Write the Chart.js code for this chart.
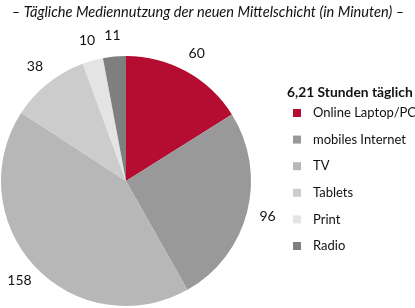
<!DOCTYPE html>
<html><head><meta charset="utf-8">
<script src="https://cdn.jsdelivr.net/npm/chart.js@4"></script>
<style>html,body{margin:0;padding:0;background:#fff;}#wrap{width:415px;height:308px;position:relative;}</style>
</head><body><div id="wrap"><canvas id="c" width="415" height="308"></canvas></div>
<script>
const categories = ["Online Laptop/PC","mobiles Internet","TV","Tablets","Print","Radio"];
const minutes = [60,96,158,38,10,11];
const colors = ["#b40d31","#999999","#b7b7b7","#cccccc","#e4e4e4","#7f7f7f"];
const titleText = "– Tägliche Mediennutzung der neuen Mittelschicht (in Minuten) –";
const legendTitle = "6,21 Stunden täglich";
const FONT = "Lato, sans-serif";

const overlay = {
  id:'overlay',
  afterDraw(chart){
    const ctx = chart.ctx;
    ctx.save();
    ctx.fillStyle = '#111';
    ctx.font = "italic 14.6px " + FONT;
    ctx.textAlign = 'center'; ctx.textBaseline = 'middle';
    ctx.fillText(titleText, 208, 12);
    const meta = chart.getDatasetMeta(0);
    ctx.font = "14px " + FONT;
    meta.data.forEach((arc,i)=>{
      const p = arc.getProps(['x','y','startAngle','endAngle','outerRadius'],true);
      const a = (p.startAngle+p.endAngle)/2;
      const r = p.outerRadius + 21;
      ctx.fillText(String(minutes[i]), p.x + Math.cos(a)*r, p.y + Math.sin(a)*r);
    });
    ctx.textAlign='left';
    ctx.font = "bold 13.8px " + FONT;
    ctx.fillText(legendTitle, 287, 93);
    ctx.font = "13px " + FONT;
    categories.forEach((c,i)=>{
      const y = 113 + i*26.6;
      ctx.fillStyle = colors[i];
      ctx.fillRect(293, y-4, 8, 8);
      ctx.fillStyle = '#111';
      ctx.fillText(c, 313, y);
    });
    ctx.restore();
  }
};

new Chart(document.getElementById('c'), {
  type:'pie',
  data:{labels:categories, datasets:[{data:minutes, backgroundColor:colors, borderWidth:0}]},
  options:{
    responsive:false, animation:false,
    layout:{padding:{left:1,right:164,top:56,bottom:2}},
    plugins:{legend:{display:false},tooltip:{enabled:false},title:{display:false}}
  },
  plugins:[overlay]
});
</script></body></html>
